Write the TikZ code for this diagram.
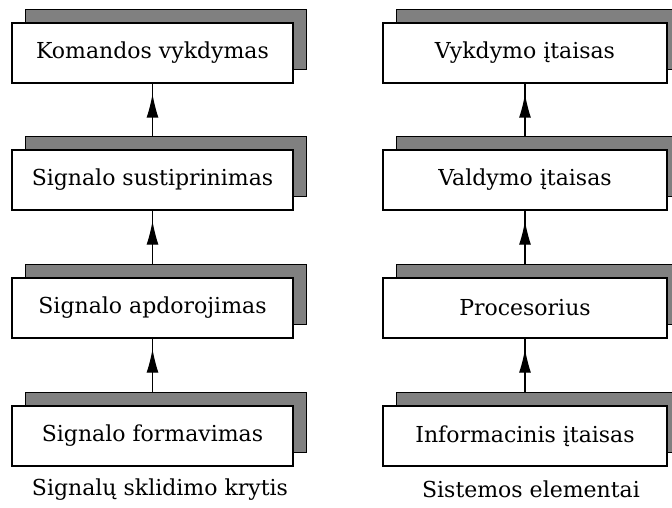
\documentclass[tikz,border=0pt]{standalone}
\usepackage{fontspec}
\setmainfont{DejaVu Serif}
\usetikzlibrary{arrows.meta,calc}
\definecolor{shadegray}{HTML}{808080}
\begin{document}
\begin{tikzpicture}[x=1pt,y=-1pt,
 front/.style={draw=black, line width=1.3pt, fill=white, minimum height=60pt, inner sep=0pt, font=\fontsize{22}{26}\selectfont},
 backbox/.style={draw=black, line width=1.3pt, fill=shadegray, minimum height=60pt, inner sep=0pt},
 lw/.style={minimum width=281pt},
 rw/.style={minimum width=284pt},
 conn/.style={line width=1.3pt},
 head/.style={-{Latex[length=24pt,width=12pt]}, line width=1.3pt},
 captext/.style={font=\fontsize{22}{26}\selectfont, anchor=base, inner sep=0pt}]
\useasboundingbox (0,0) rectangle (672,508);
% left column shadows
\node[backbox,lw] (ls1) at (166,39.5) {};
\node[backbox,lw] (ls2) at (166,166.5) {};
\node[backbox,lw] (ls3) at (166,294.5) {};
\node[backbox,lw] (ls4) at (166,422.5) {};
% left column boxes
\node[front,lw] (l1) at (152.5,53) {Komandos vykdymas\hspace{17pt}};
\node[front,lw] (l2) at (152.5,180) {Signalo sustiprinimas\hspace{11pt}};
\node[front,lw] (l3) at (152.5,308) {Signalo apdorojimas};
\node[front,lw] (l4) at (152.5,436) {Signalo formavimas};
% right column shadows
\node[backbox,rw] (rs1) at (538.5,39.5) {};
\node[backbox,rw] (rs2) at (538.5,166.5) {};
\node[backbox,rw] (rs3) at (538.5,294.5) {};
\node[backbox,rw] (rs4) at (538.5,422.5) {};
% right column boxes
\node[front,rw] (r1) at (525,53) {Vykdymo įtaisas\hspace{10pt}};
\node[front,rw] (r2) at (525,180) {Valdymo įtaisas\hspace{24pt}};
\node[front,rw] (r3) at (525,308) {Procesorius};
\node[front,rw] (r4) at (525,436) {Informacinis įtaisas\hspace{16pt}};
% connectors
\foreach \u/\d/\s in {l1/l2/ls2, l2/l3/ls3, l3/l4/ls4, r1/r2/rs2, r2/r3/rs3, r3/r4/rs4}{
  \draw[conn] (\u.south) -- (\d.north |- \s.north);
  \draw[head] (\d.north |- \s.north) -- ($(\u.south)+(0,10)$);
}
% captions
\node[captext] (c1) at (160,495) {Signalų sklidimo krytis};
\node[captext] (c2) at (531,497) {Sistemos elementai};
\end{tikzpicture}
\end{document}
